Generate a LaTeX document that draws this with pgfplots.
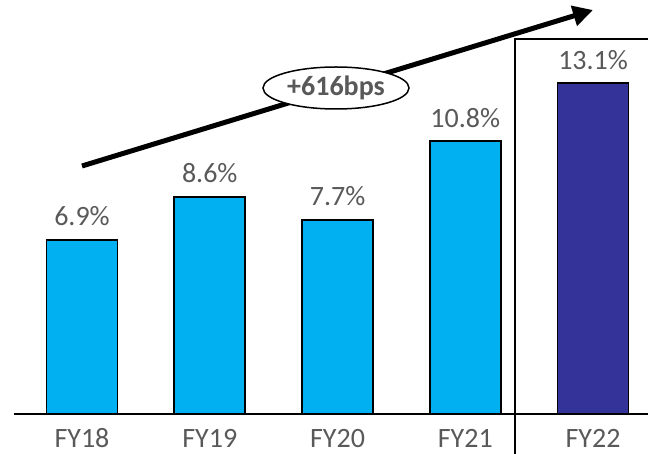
\documentclass[border=0pt]{standalone}
\usepackage{pgfplots}
\pgfplotsset{compat=1.18}
\usepackage{fontspec}
\setmainfont{Carlito}
\usetikzlibrary{arrows.meta,shapes.geometric}
\definecolor{lightblue}{HTML}{00B0F0}
\definecolor{navy}{HTML}{333399}
\definecolor{txtgrey}{HTML}{595959}
\begin{document}
\begin{tikzpicture}[x=1bp,y=1bp]
\useasboundingbox (0bp,0bp) rectangle (648bp,454bp);
\begin{axis}[
  at={(82bp,40bp)}, anchor=origin,
  scale only axis, width=634bp, height=414bp,
  xmin=-0.532, xmax=4.43, ymin=0, ymax=16.4,
  axis x line=bottom, axis y line=none,
  x axis line style={-, line width=1.5bp, black},
  xtick={0,1,2,3,4},
  xticklabels={FY18,FY19,FY20,FY21,FY22},
  major tick length=0pt,
  xticklabel style={anchor=base, inner sep=0pt, yshift=-34bp, text=txtgrey, font=\fontsize{28bp}{32bp}\selectfont},
  ybar, bar width=71bp, bar shift=0pt,
  clip=false,
  /pgf/number format/assume math mode=true,
  nodes near coords={\pgfmathprintnumber[fixed,precision=1,fixed zerofill,assume math mode=true]{\pgfplotspointmeta}\%},
  nodes near coords style={anchor=base, inner sep=0pt, yshift=14bp, text=txtgrey, font=\fontsize{28bp}{32bp}\selectfont},
]
\addplot[fill=lightblue, draw=black, line width=1.8bp] coordinates {(0,6.9) (1,8.6) (2,7.7) (3,10.8)};
\addplot[fill=navy, draw=black, line width=1.8bp] coordinates {(4,13.1)};
\end{axis}
\draw[line width=5bp, -{Triangle[length=20bp,width=20bp]}] (82bp,288bp) -- (593bp,444bp);
\node[draw, ellipse, fill=white, line width=1.5bp, minimum width=146bp, minimum height=42bp, inner sep=0pt, text=txtgrey, font=\fontsize{28bp}{32bp}\selectfont\bfseries] at (336bp,366bp) {+616bps};
\draw[line width=1.2bp] (515bp,0bp) -- (515bp,415bp) -- (648bp,415bp);
\end{tikzpicture}
\end{document}
